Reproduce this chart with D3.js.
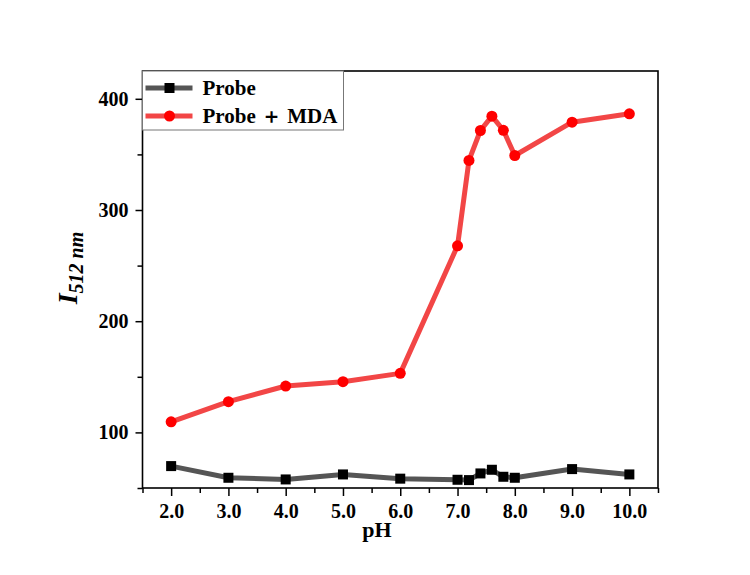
<!DOCTYPE html>
<html>
<head>
<meta charset="utf-8">
<script src="https://cdn.jsdelivr.net/npm/d3@7"></script>
<style>
  body { margin: 0; background: #fff; }
  text { font-family: "Liberation Serif", "Times New Roman", serif; font-weight: bold; }
</style>
</head>
<body>
<svg id="chart" width="750" height="575"></svg>
<script>
var phValues = [2.0, 3.0, 4.0, 5.0, 6.0, 7.0, 7.2, 7.4, 7.6, 7.8, 8.0, 9.0, 10.0];
var probe = [69.7, 59.2, 57.7, 62.2, 58.4, 57.4, 57.1, 63.1, 66.4, 60.1, 59.2, 67.0, 62.2];
var probeMDA = [109.5, 127.6, 141.7, 145.6, 153.1, 267.8, 344.6, 371.5, 384.4, 371.7, 349.0, 379.0, 386.5];
var xTicks = [2, 3, 4, 5, 6, 7, 8, 9, 10];
var yTicks = [100, 200, 300, 400];
var seriesNames = ["Probe", "Probe \uFF0B MDA"];

var plotLeft = 142.5, plotRight = 658, plotTop = 71, plotBottom = 488;

var svg = d3.select("#chart");

var x = d3.scaleLinear().domain([1.5, 10.5]).range([plotLeft, plotRight]);
var y = d3.scaleLinear().domain([50, 425]).range([plotBottom, plotTop]);

// minor ticks
var xMinor = d3.range(1.5, 10.51, 0.5).filter(v => !xTicks.includes(v));
var yMinor = d3.range(50, 425, 50).filter(v => !yTicks.includes(v));

svg.append("g")
    .attr("transform", "translate(0," + plotBottom + ")")
    .call(d3.axisBottom(x).tickValues(xMinor).tickSize(5).tickFormat(""))
    .call(g => g.select(".domain").remove())
    .selectAll("line").attr("stroke-width", 1.5);

svg.append("g")
    .attr("transform", "translate(" + plotLeft + ",0)")
    .call(d3.axisLeft(y).tickValues(yMinor).tickSize(5).tickFormat(""))
    .call(g => g.select(".domain").remove())
    .selectAll("line").attr("stroke-width", 1.5);

var xAxis = svg.append("g")
    .attr("transform", "translate(0," + plotBottom + ")")
    .call(d3.axisBottom(x).tickValues(xTicks).tickSize(8).tickPadding(8).tickFormat(d3.format(".1f")));
xAxis.select(".domain").remove();
xAxis.selectAll("line").attr("stroke-width", 1.5);
xAxis.selectAll("text").attr("font-size", 20).attr("fill", "#000")
    .style("font-family", "'Liberation Serif', serif").style("font-weight", "bold");

var yAxis = svg.append("g")
    .attr("transform", "translate(" + plotLeft + ",0)")
    .call(d3.axisLeft(y).tickValues(yTicks).tickSize(7).tickPadding(7));
yAxis.select(".domain").remove();
yAxis.selectAll("line").attr("stroke-width", 1.5);
yAxis.selectAll("text").attr("font-size", 20).attr("fill", "#000")
    .style("font-family", "'Liberation Serif', serif").style("font-weight", "bold");

// frame
svg.append("rect")
    .attr("x", plotLeft).attr("y", plotTop)
    .attr("width", plotRight - plotLeft).attr("height", plotBottom - plotTop)
    .attr("fill", "none").attr("stroke", "#000").attr("stroke-width", 1.6);

var line = d3.line().x(d => x(d[0])).y(d => y(d[1]));

var probeData = phValues.map((p, i) => [p, probe[i]]);
var mdaData = phValues.map((p, i) => [p, probeMDA[i]]);

svg.append("path").datum(probeData)
    .attr("d", line).attr("fill", "none")
    .attr("stroke", "#555").attr("stroke-width", 5).attr("stroke-linejoin", "round");
svg.selectAll(".sq").data(probeData).enter().append("rect")
    .attr("x", d => x(d[0]) - 5).attr("y", d => y(d[1]) - 5)
    .attr("width", 10).attr("height", 10).attr("fill", "#000");

svg.append("path").datum(mdaData)
    .attr("d", line).attr("fill", "none")
    .attr("stroke", "#f24646").attr("stroke-width", 5).attr("stroke-linejoin", "round");
svg.selectAll(".dot").data(mdaData).enter().append("circle")
    .attr("cx", d => x(d[0])).attr("cy", d => y(d[1]))
    .attr("r", 5.5).attr("fill", "#ff0000");

// legend
var legend = svg.append("g");
legend.append("rect")
    .attr("x", plotLeft).attr("y", plotTop)
    .attr("width", 201).attr("height", 59)
    .attr("fill", "#fff").attr("stroke", "#777").attr("stroke-width", 1);

[0, 1].forEach(function (i) {
    var ly = 88 + i * 28;
    legend.append("line")
        .attr("x1", plotLeft + 3).attr("x2", plotLeft + 50).attr("y1", ly).attr("y2", ly)
        .attr("stroke", i == 0 ? "#555" : "#f24646").attr("stroke-width", 5);
    if (i == 0) {
        legend.append("rect").attr("x", plotLeft + 22).attr("y", ly - 5)
            .attr("width", 10).attr("height", 10).attr("fill", "#000");
    } else {
        legend.append("circle").attr("cx", plotLeft + 27).attr("cy", ly).attr("r", 5.5).attr("fill", "#ff0000");
    }
    legend.append("text")
        .attr("x", plotLeft + 60).attr("y", ly + 7)
        .attr("font-size", 21)
        .text(seriesNames[i]);
});

// axis titles
svg.append("text")
    .attr("x", 377).attr("y", 537)
    .attr("text-anchor", "middle").attr("font-size", 22)
    .text("pH");

var yt = svg.append("text")
    .attr("transform", "translate(77,268) rotate(-90)")
    .attr("text-anchor", "middle")
    .attr("font-style", "italic");
yt.append("tspan").attr("font-size", 28).text("I");
yt.append("tspan").attr("font-size", 20).attr("dy", 6).text("512 nm");
</script>
</body>
</html>
